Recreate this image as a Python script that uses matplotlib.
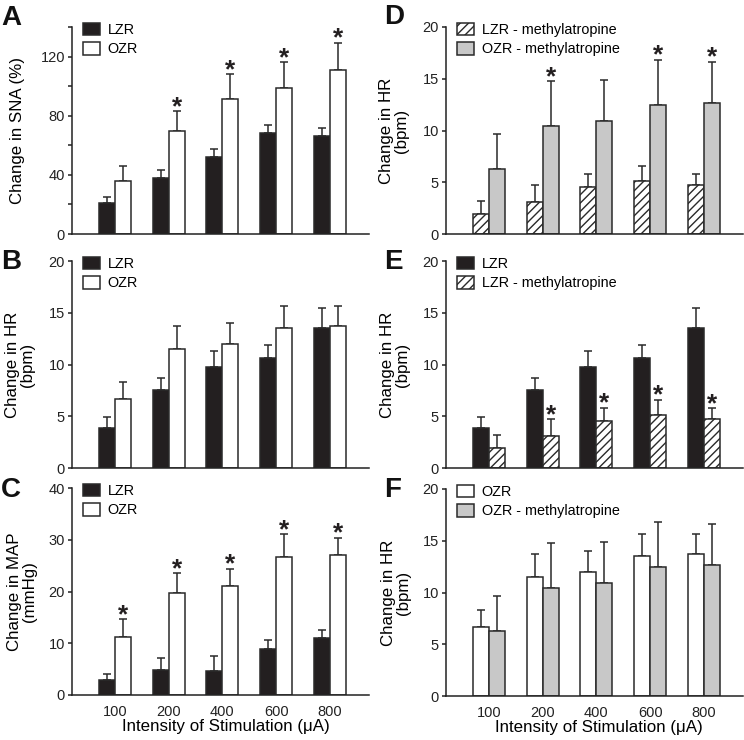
import numpy as np
import matplotlib
matplotlib.use("Agg")
import matplotlib.pyplot as plt

plt.rcParams['font.family'] = ['Liberation Sans', 'DejaVu Sans']
plt.rcParams['hatch.linewidth'] = 1.0

# ---------------- data ----------------
doses = ['100', '200', '400', '600', '800']

sna_lzr = [21, 38, 52, 68.5, 66]
sna_lzr_err = [4, 5, 5.5, 5, 5.5]
sna_ozr = [36, 70, 91, 99, 111]
sna_ozr_err = [10, 13, 17, 17, 18.5]
sna_sig = [False, True, True, True, True]

hr_lzr = [3.9, 7.5, 9.75, 10.65, 13.5]
hr_lzr_err = [1.0, 1.2, 1.55, 1.25, 2.0]
hr_ozr = [6.7, 11.5, 12.0, 13.5, 13.7]
hr_ozr_err = [1.6, 2.2, 2.0, 2.2, 2.0]

map_lzr = [2.9, 4.8, 4.7, 8.8, 11.0]
map_lzr_err = [1.2, 2.3, 2.9, 1.9, 1.6]
map_ozr = [11.2, 19.8, 21.0, 26.7, 27.0]
map_ozr_err = [3.4, 3.7, 3.4, 4.4, 3.4]
map_sig = [True, True, True, True, True]

hr_lzr_meth = [1.9, 3.1, 4.5, 5.1, 4.7]
hr_lzr_meth_err = [1.3, 1.6, 1.3, 1.5, 1.05]
hr_ozr_meth = [6.3, 10.4, 10.9, 12.5, 12.7]
hr_ozr_meth_err = [3.35, 4.35, 3.95, 4.35, 3.95]
d_sig = [False, True, False, True, True]
e_sig = [False, True, True, True, True]

# ---------------- styles ----------------
BLACK = dict(facecolor='#231f20', hatch=None)
WHITE = dict(facecolor='white', hatch=None)
HATCH = dict(facecolor='white', hatch='////')
GRAY = dict(facecolor='#c8c8c8', hatch=None)
EDGE = '#2a2a2a'

W, H = 744, 740
fig = plt.figure(figsize=(W / 100, H / 100), dpi=100)

AX_W = 297
def add_ax(left, top, bottom):
    return fig.add_axes([left / W, 1 - bottom / H, AX_W / W, (bottom - top) / H])

TICK_FS = 10.5
LAB_FS = 12.2
LEG_FS = 10.4
bw = 0.30

def panel(ax, s1, s2, ylim, yticks, ylabels, ylabel, sig, labels, xlab, lab_x, xlab_x=0.5):
    x = np.arange(len(doses))
    handles = []
    for (vals, errs, st), off in zip([s1, s2], [-bw / 2, bw / 2]):
        b = ax.bar(x + off, vals, width=bw, facecolor=st['facecolor'], hatch=st['hatch'],
                   edgecolor=EDGE, linewidth=1.1, zorder=2)
        handles.append(b)
        ax.errorbar(x + off, vals, yerr=[np.zeros(len(vals)), errs], fmt='none',
                    ecolor=EDGE, elinewidth=1.1, capsize=2.6, capthick=1.1, zorder=1)
    if sig is not None:
        vals, errs = s2[0], s2[1]
        for i, sgn in enumerate(sig):
            if sgn:
                ax.annotate('*', xy=(x[i] + bw / 2, vals[i] + errs[i]), xytext=(0, -2),
                            textcoords='offset points', ha='center', va='baseline',
                            fontsize=19, fontweight='bold', color='#231f20')
    ax.set_xlim(-0.8, 4.73)
    ax.set_ylim(*ylim)
    ax.set_yticks(yticks)
    ax.set_yticklabels(ylabels, fontsize=TICK_FS)
    for s in ['top', 'right']:
        ax.spines[s].set_visible(False)
    for s in ['left', 'bottom']:
        ax.spines[s].set_linewidth(1.1)
        ax.spines[s].set_color('#222222')
    ax.tick_params(axis='y', direction='out', length=3, width=1.1, pad=2, colors='#222222')
    if xlab:
        ax.set_xticks(x)
        ax.set_xticklabels(doses, fontsize=TICK_FS)
        ax.tick_params(axis='x', length=0, pad=7, colors='#222222')
        ax.set_xlabel('Intensity of Stimulation (\u03bcA)', fontsize=LAB_FS)
        ax.xaxis.set_label_coords(xlab_x, -0.118)
    else:
        ax.set_xticks([])
    ax.set_ylabel(ylabel, fontsize=LAB_FS, linespacing=1.0)
    ax.yaxis.set_label_coords(lab_x, 0.5)
    ax.legend(handles, labels, loc='upper left', bbox_to_anchor=(11 / AX_W, 1.02),
              frameon=False, fontsize=LEG_FS, handlelength=1.2, handleheight=0.95,
              handletextpad=0.5, labelspacing=0.35, borderpad=0, borderaxespad=0)

L1, L2 = 72, 446
axA = add_ax(L1, 27, 234)
axB = add_ax(L1, 261, 468)
axC = add_ax(L1, 488, 695)
axD = add_ax(L2, 27, 234)
axE = add_ax(L2, 261, 468)
axF = add_ax(L2, 489, 696)

hr_ticks = [0, 5, 10, 15, 20]
hr_lbls = ['0', '5', '10', '15', '20']
hr_label = 'Change in HR\n(bpm)'

panel(axA, (sna_lzr, sna_lzr_err, BLACK), (sna_ozr, sna_ozr_err, WHITE), (0, 140),
      [0, 20, 40, 60, 80, 100, 120, 140], ['0', '', '40', '', '80', '', '120', ''],
      'Change in SNA (%)', sna_sig, ['LZR', 'OZR'], False, (25 - L1) / AX_W)
panel(axB, (hr_lzr, hr_lzr_err, BLACK), (hr_ozr, hr_ozr_err, WHITE), (0, 20),
      hr_ticks, hr_lbls, hr_label, None, ['LZR', 'OZR'], False, (35 - L1) / AX_W)
panel(axC, (map_lzr, map_lzr_err, BLACK), (map_ozr, map_ozr_err, WHITE), (0, 40),
      [0, 10, 20, 30, 40], ['0', '10', '20', '30', '40'], 'Change in MAP\n(mmHg)',
      map_sig, ['LZR', 'OZR'], True, (37 - L1) / AX_W, (226 - L1) / AX_W)
panel(axD, (hr_lzr_meth, hr_lzr_meth_err, HATCH), (hr_ozr_meth, hr_ozr_meth_err, GRAY),
      (0, 20), hr_ticks, hr_lbls, hr_label, d_sig,
      ['LZR - methylatropine', 'OZR - methylatropine'], False, (409 - L2) / AX_W)
panel(axE, (hr_lzr, hr_lzr_err, BLACK), (hr_lzr_meth, hr_lzr_meth_err, HATCH),
      (0, 20), hr_ticks, hr_lbls, hr_label, e_sig,
      ['LZR', 'LZR - methylatropine'], False, (410 - L2) / AX_W)
panel(axF, (hr_ozr, hr_ozr_err, WHITE), (hr_ozr_meth, hr_ozr_meth_err, GRAY),
      (0, 20), hr_ticks, hr_lbls, hr_label, None,
      ['OZR', 'OZR - methylatropine'], True, (411 - L2) / AX_W, (599 - L2) / AX_W)

for letter, px, py in [('A', 1, 25), ('B', 1, 269), ('C', 1, 497),
                       ('D', 384, 24), ('E', 384, 269), ('F', 384, 497)]:
    fig.text(px / W, 1 - py / H, letter, fontsize=20, fontweight='bold',
             va='baseline', ha='left', color='#111111')

fig.savefig('out.png', dpi=100)
